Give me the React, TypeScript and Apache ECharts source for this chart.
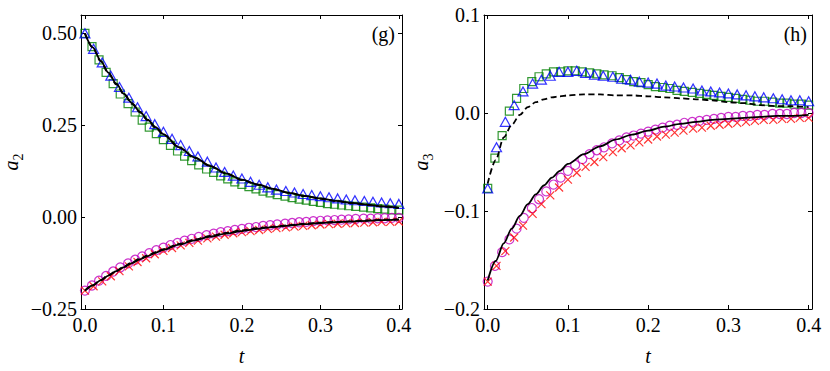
import React, { useEffect, useRef } from "react";
import * as echarts from "echarts";

// time grids of the markers and curves
const tFine = [0, 0.009, 0.018, 0.027, 0.036, 0.045, 0.055, 0.064, 0.073, 0.082, 0.091, 0.1, 0.109, 0.118, 0.127, 0.136, 0.145, 0.155, 0.164, 0.173, 0.182, 0.191, 0.2, 0.209, 0.218, 0.227, 0.236, 0.245, 0.255, 0.264, 0.273, 0.282, 0.291, 0.3, 0.309, 0.318, 0.327, 0.336, 0.345, 0.355, 0.364, 0.373, 0.382, 0.391, 0.4];
const tCoarse = [0, 0.011, 0.022, 0.033, 0.044, 0.056, 0.067, 0.078, 0.089, 0.1, 0.111, 0.122, 0.133, 0.144, 0.156, 0.167, 0.178, 0.189, 0.2, 0.211, 0.222, 0.233, 0.244, 0.256, 0.267, 0.278, 0.289, 0.3, 0.311, 0.322, 0.333, 0.344, 0.356, 0.367, 0.378, 0.389, 0.4];
const tLine = [0, 0.01, 0.02, 0.03, 0.04, 0.05, 0.06, 0.07, 0.08, 0.09, 0.1, 0.12, 0.14, 0.16, 0.18, 0.2, 0.22, 0.24, 0.26, 0.28, 0.3, 0.32, 0.34, 0.36, 0.38, 0.4];

// panel (g): a2
const gSquares = [0.5, 0.464, 0.428, 0.394, 0.363, 0.335, 0.309, 0.286, 0.264, 0.245, 0.227, 0.211, 0.195, 0.18, 0.166, 0.154, 0.142, 0.131, 0.122, 0.112, 0.104, 0.096, 0.089, 0.083, 0.077, 0.071, 0.066, 0.061, 0.057, 0.053, 0.049, 0.046, 0.043, 0.04, 0.037, 0.035, 0.033, 0.031, 0.029, 0.027, 0.025, 0.023, 0.022, 0.02, 0.019];
const gTriangles = [0.5, 0.458, 0.421, 0.385, 0.354, 0.325, 0.299, 0.275, 0.253, 0.232, 0.213, 0.196, 0.18, 0.165, 0.151, 0.135, 0.123, 0.113, 0.105, 0.096, 0.088, 0.081, 0.075, 0.071, 0.067, 0.063, 0.06, 0.057, 0.054, 0.051, 0.048, 0.046, 0.044, 0.042, 0.04, 0.038, 0.036];
const gCircles = [-0.2, -0.186, -0.173, -0.16, -0.148, -0.137, -0.126, -0.116, -0.107, -0.098, -0.09, -0.083, -0.076, -0.07, -0.064, -0.059, -0.054, -0.049, -0.045, -0.041, -0.038, -0.035, -0.032, -0.029, -0.027, -0.024, -0.022, -0.02, -0.018, -0.016, -0.014, -0.013, -0.011, -0.01, -0.009, -0.008, -0.007, -0.006, -0.005, -0.004, -0.004, -0.003, -0.003, -0.002, -0.002];
const gCrosses = [-0.2, -0.188, -0.175, -0.161, -0.147, -0.134, -0.122, -0.112, -0.101, -0.092, -0.084, -0.077, -0.07, -0.064, -0.058, -0.053, -0.048, -0.044, -0.041, -0.038, -0.035, -0.032, -0.03, -0.028, -0.026, -0.024, -0.022, -0.02, -0.019, -0.018, -0.017, -0.016, -0.015, -0.014, -0.013, -0.013, -0.012];
const gUpperSolid = [0.5, 0.462, 0.426, 0.393, 0.363, 0.335, 0.31, 0.287, 0.265, 0.245, 0.226, 0.19, 0.162, 0.139, 0.119, 0.102, 0.089, 0.077, 0.066, 0.058, 0.051, 0.044, 0.039, 0.034, 0.029, 0.025];
const gUpperDashed = [0.5, 0.461, 0.424, 0.391, 0.361, 0.333, 0.308, 0.285, 0.263, 0.243, 0.224, 0.189, 0.161, 0.138, 0.118, 0.101, 0.088, 0.076, 0.066, 0.057, 0.05, 0.044, 0.038, 0.033, 0.029, 0.025];
const gLowerSolid = [-0.2, -0.186, -0.172, -0.159, -0.147, -0.136, -0.125, -0.115, -0.106, -0.097, -0.089, -0.075, -0.063, -0.053, -0.045, -0.038, -0.032, -0.027, -0.023, -0.019, -0.016, -0.014, -0.012, -0.01, -0.008, -0.007];
const gLowerDashed = [-0.2, -0.185, -0.171, -0.158, -0.146, -0.134, -0.123, -0.113, -0.104, -0.095, -0.087, -0.073, -0.061, -0.051, -0.043, -0.036, -0.03, -0.026, -0.022, -0.018, -0.015, -0.013, -0.011, -0.009, -0.007, -0.006];

// panel (h): a3
const hSquares = [-0.077, -0.046, -0.023, 0.002, 0.015, 0.025, 0.032, 0.037, 0.04, 0.042, 0.042, 0.043, 0.043, 0.042, 0.041, 0.04, 0.039, 0.038, 0.036, 0.034, 0.032, 0.031, 0.029, 0.027, 0.026, 0.025, 0.023, 0.022, 0.021, 0.02, 0.019, 0.018, 0.017, 0.016, 0.015, 0.014, 0.013, 0.012, 0.012, 0.011, 0.01, 0.01, 0.009, 0.009, 0.008];
const hTriangles = [-0.077, -0.035, -0.009, 0.008, 0.022, 0.03, 0.034, 0.038, 0.042, 0.042, 0.043, 0.041, 0.039, 0.038, 0.037, 0.035, 0.034, 0.032, 0.031, 0.03, 0.028, 0.027, 0.026, 0.025, 0.023, 0.022, 0.021, 0.02, 0.019, 0.018, 0.017, 0.016, 0.015, 0.014, 0.013, 0.013, 0.012];
const hCircles = [-0.172, -0.156, -0.142, -0.129, -0.118, -0.107, -0.097, -0.088, -0.08, -0.073, -0.066, -0.059, -0.053, -0.047, -0.042, -0.038, -0.035, -0.031, -0.028, -0.025, -0.023, -0.021, -0.019, -0.017, -0.015, -0.013, -0.012, -0.01, -0.009, -0.008, -0.007, -0.006, -0.005, -0.004, -0.004, -0.003, -0.003, -0.002, -0.002, -0.001, -0.001, -0.001, 0, 0, 0];
const hCrosses = [-0.172, -0.156, -0.141, -0.127, -0.115, -0.103, -0.093, -0.084, -0.076, -0.068, -0.061, -0.055, -0.05, -0.045, -0.04, -0.036, -0.033, -0.03, -0.027, -0.024, -0.022, -0.02, -0.018, -0.016, -0.015, -0.013, -0.012, -0.011, -0.01, -0.009, -0.008, -0.007, -0.007, -0.006, -0.006, -0.005, -0.005];
const hUpperDashed = [-0.072, -0.048, -0.025, -0.012, -0.002, 0.006, 0.011, 0.014, 0.016, 0.017, 0.018, 0.019, 0.019, 0.018, 0.018, 0.017, 0.016, 0.015, 0.014, 0.013, 0.011, 0.01, 0.008, 0.007, 0.007, 0.006];
const hLowerSolid = [-0.171, -0.151, -0.133, -0.118, -0.105, -0.093, -0.083, -0.074, -0.066, -0.059, -0.052, -0.042, -0.034, -0.027, -0.022, -0.018, -0.014, -0.011, -0.009, -0.007, -0.006, -0.005, -0.004, -0.003, -0.003, -0.002];

// tick labels
const xTicks = [0, 0.1, 0.2, 0.3, 0.4];
const gYTicks = [-0.25, 0, 0.25, 0.5];
const hYTicks = [-0.2, -0.1, 0, 0.1];

const FONT = "'Liberation Serif', 'DejaVu Serif', serif";
const FS = 20;

const pairs = (ts: number[], vs: number[]) => ts.map((t, i) => [t, vs[i]]);
const fmt = (d: number) => (v: number) => {
  const s = Math.abs(v).toFixed(d);
  return v < -1e-9 ? "\u2212" + s : s;
};

const CROSS = "path://M0,0L10,10M10,0L0,10";

function markerSeries(name: string, data: number[][], symbol: string, size: any, color: string, axis: number) {
  return {
    name,
    type: "scatter",
    xAxisIndex: axis,
    yAxisIndex: axis,
    data,
    symbol,
    symbolSize: size,
    itemStyle: { color: "transparent", borderColor: color, borderWidth: 1.2 },
    z: 2,
    silent: true,
  };
}

function lineSeries(name: string, data: number[][], dashed: boolean, axis: number) {
  return {
    name,
    type: "line",
    xAxisIndex: axis,
    yAxisIndex: axis,
    data,
    showSymbol: false,
    smooth: 0.3,
    smoothMonotone: "x",
    lineStyle: { color: "#000", width: 1.8, type: dashed ? [6, 3.5] : "solid" },
    z: 3,
    silent: true,
  };
}

function xAxes(grid: number, min: number, max: number) {
  const base = {
    type: "value",
    gridIndex: grid,
    min,
    max,
    splitLine: { show: false },
    axisLine: { show: true, onZero: false, lineStyle: { color: "#000", width: 1 } },
    axisTick: { show: true, inside: true, length: 4, customValues: xTicks, lineStyle: { color: "#000" } },
  };
  return [
    {
      ...base,
      position: "bottom",
      name: "t",
      nameLocation: "middle",
      nameGap: 37,
      nameTextStyle: { fontFamily: FONT, fontSize: FS, fontStyle: "italic", color: "#000" },
      axisLabel: { show: true, customValues: xTicks, formatter: fmt(1), fontFamily: FONT, fontSize: FS, color: "#000", margin: 6 },
    },
    { ...base, position: "top", axisLabel: { show: false } },
  ];
}

function yAxes(grid: number, min: number, max: number, ticks: number[], dec: number, sub: string, gap: number) {
  const base = {
    type: "value",
    gridIndex: grid,
    min,
    max,
    splitLine: { show: false },
    axisLine: { show: true, onZero: false, lineStyle: { color: "#000", width: 1 } },
    axisTick: { show: true, inside: true, length: 4, customValues: ticks, lineStyle: { color: "#000" } },
  };
  return [
    {
      ...base,
      position: "left",
      name: "{a|a}{s|" + sub + "}",
      nameLocation: "middle",
      nameRotate: 90,
      nameGap: gap,
      nameTextStyle: {
        rich: {
          a: { fontFamily: FONT, fontSize: FS, fontStyle: "italic", color: "#000", lineHeight: 24, verticalAlign: "top" },
          s: { fontFamily: FONT, fontSize: 14, color: "#000", lineHeight: 14, verticalAlign: "bottom" },
        },
      },
      axisLabel: { show: true, customValues: ticks, formatter: fmt(dec), fontFamily: FONT, fontSize: FS, color: "#000", margin: 4 },
    },
    { ...base, position: "right", axisLabel: { show: false } },
  ];
}

export default function App() {
  const ref = useRef<HTMLDivElement>(null);
  useEffect(() => {
    if (!ref.current) return;
    const chart = echarts.init(ref.current, null, { renderer: "svg" });
    const option: any = {
      animation: false,
      backgroundColor: "#fff",
      grid: [
        { left: 73, top: 15, width: 329, height: 300 },
        { left: 484, top: 15, width: 328, height: 300 },
      ],
      xAxis: [...xAxes(0, -0.005, 0.404), ...xAxes(1, -0.0046, 0.4042)],
      yAxis: [
        ...yAxes(0, -0.25, 0.55, gYTicks, 2, "2", 56),
        ...yAxes(1, -0.2, 0.1, hYTicks, 1, "3", 49),
      ],
      series: [
        markerSeries("g squares", pairs(tFine, gSquares), "rect", 8, "#008000", 0),
        markerSeries("g triangles", pairs(tCoarse, gTriangles), "triangle", [10, 9], "#0000ff", 0),
        markerSeries("g circles", pairs(tFine, gCircles), "circle", 9, "#bf00bf", 0),
        markerSeries("g crosses", pairs(tCoarse, gCrosses), CROSS, 8, "#ff0000", 0),
        lineSeries("g upper solid", pairs(tLine, gUpperSolid), false, 0),
        lineSeries("g upper dashed", pairs(tLine, gUpperDashed), true, 0),
        lineSeries("g lower solid", pairs(tLine, gLowerSolid), false, 0),
        lineSeries("g lower dashed", pairs(tLine, gLowerDashed), true, 0),
        markerSeries("h squares", pairs(tFine, hSquares), "rect", 8, "#008000", 2),
        markerSeries("h triangles", pairs(tCoarse, hTriangles), "triangle", [10, 9], "#0000ff", 2),
        markerSeries("h circles", pairs(tFine, hCircles), "circle", 9, "#bf00bf", 2),
        markerSeries("h crosses", pairs(tCoarse, hCrosses), CROSS, 8, "#ff0000", 2),
        lineSeries("h upper dashed", pairs(tLine, hUpperDashed), true, 2),
        lineSeries("h lower solid", pairs(tLine, hLowerSolid), false, 2),
      ],
      graphic: [
        { type: "text", right: 830 - 395, top: 24, style: { text: "(g)", font: `${FS}px ${FONT}`, fill: "#000" } },
        { type: "text", right: 830 - 807, top: 24, style: { text: "(h)", font: `${FS}px ${FONT}`, fill: "#000" } },
      ],
    };
    chart.setOption(option);
    return () => chart.dispose();
  }, []);
  return (
    <div
      ref={ref}
      style={{ position: "fixed", left: 0, top: 0, width: 830, height: 371, background: "#fff" }}
    />
  );
}
